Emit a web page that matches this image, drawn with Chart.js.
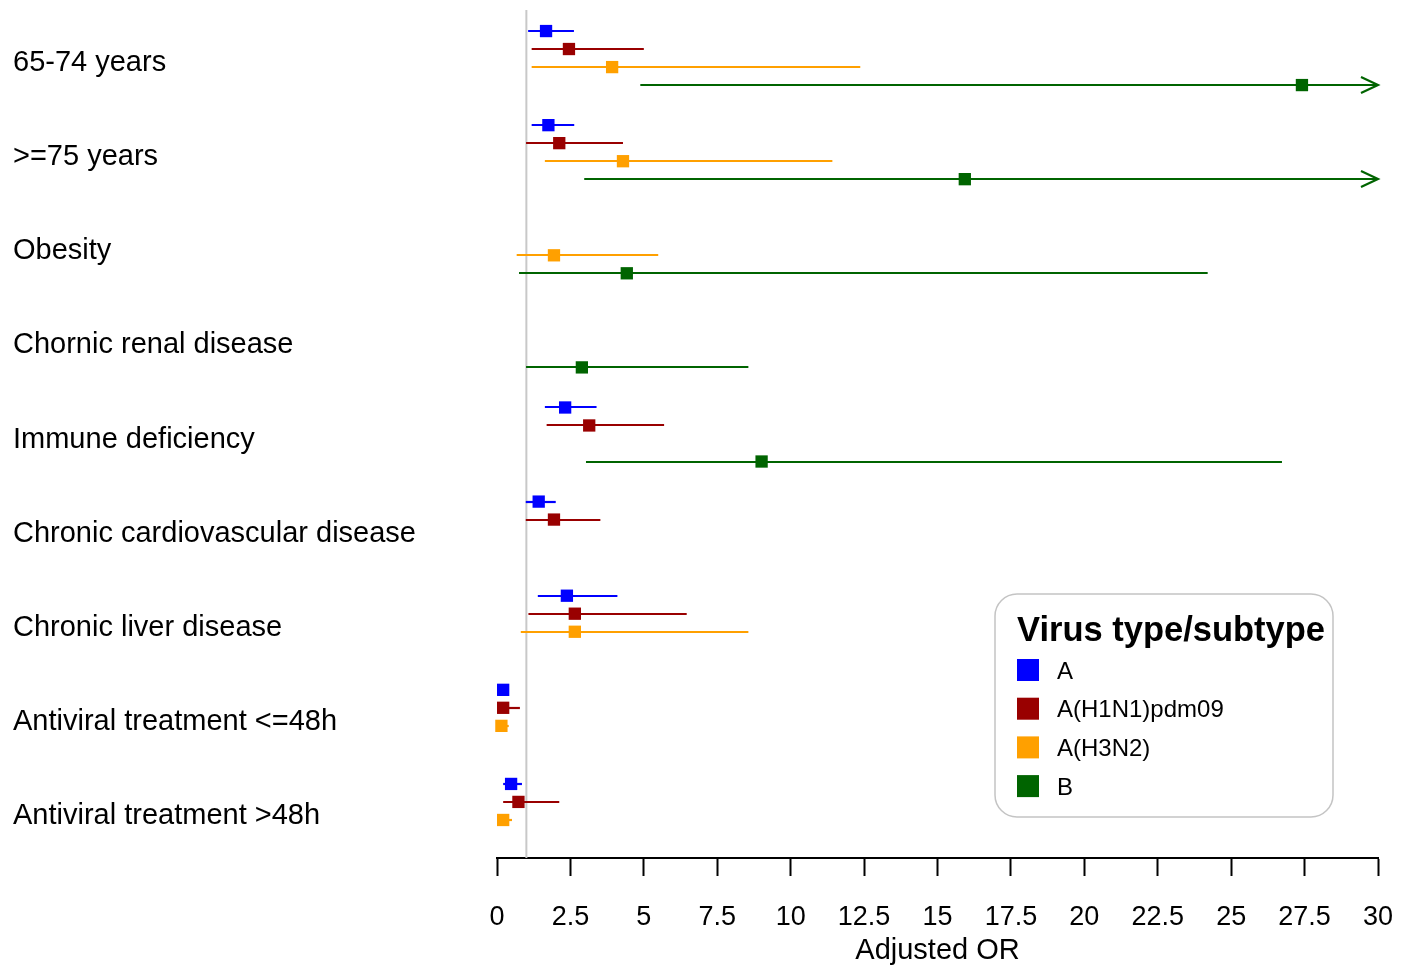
<!DOCTYPE html>
<html>
<head>
<meta charset="utf-8">
<title>Adjusted OR by virus type/subtype</title>
<script src="https://cdn.jsdelivr.net/npm/chart.js@4/dist/chart.umd.min.js"></script>
<style>
  html, body { margin: 0; padding: 0; background: #fff; }
  #caixa { width: 1409px; height: 970px; }
</style>
</head>
<body>
<div id="caixa"><canvas id="grafico"></canvas></div>
<script>
// grupos (linhas do forest plot), de cima pra baixo
var grupos = [
  '65-74 years',
  '>=75 years',
  'Obesity',
  'Chornic renal disease',
  'Immune deficiency',
  'Chronic cardiovascular disease',
  'Chronic liver disease',
  'Antiviral treatment <=48h',
  'Antiviral treatment >48h'
];

var nomesDasSeries = ['A', 'A(H1N1)pdm09', 'A(H3N2)', 'B'];
var coresDasSeries = ['#0000ff', '#990000', '#ffa000', '#006400'];

// valores (null = nao tem)
var pontoA  = [1.67, 1.75, null, null, 2.32, 1.42, 2.38, 0.21, 0.48];
var baixoA  = [1.06, 1.18, null, null, 1.63, 0.98, 1.39, 0.14, 0.21];
var altoA   = [2.62, 2.63, null, null, 3.39, 2.00, 4.10, 0.30, 0.85];

var pontoH1 = [2.45, 2.12, null, null, 3.14, 1.94, 2.65, 0.21, 0.73];
var baixoH1 = [1.18, 0.99, null, null, 1.69, 0.98, 1.07, 0.15, 0.21];
var altoH1  = [5.00, 4.29, null, null, 5.69, 3.52, 6.46, 0.78, 2.12];

var pontoH3 = [3.92, 4.29, 1.94, null, null, null, 2.65, 0.15, 0.21];
var baixoH3 = [1.18, 1.63, 0.67, null, null, null, 0.81, 0.10, 0.15];
var altoH3  = [12.37, 11.42, 5.49, null, null, null, 8.56, 0.40, 0.51];

// B: nas duas primeiras o limite superior passa de 30 (seta no grafico)
var pontoB  = [27.41, 15.93, 4.42, 2.89, 9.01, null, null, null, null];
var baixoB  = [4.88, 2.97, 0.75, 0.99, 3.03, null, null, null, null];
var altoB   = [Infinity, Infinity, 24.2, 8.56, 26.73, null, null, null, null];

// ticks do eixo x
var ticksX = [0, 2.5, 5, 7.5, 10, 12.5, 15, 17.5, 20, 22.5, 25, 27.5, 30];
var linhaDeReferencia = 1;

// posicao de cada serie dentro do grupo
var deslocamentos = [-0.287, -0.096, 0.096, 0.287];

var fonte = 'Liberation Sans, Arial, sans-serif';

// monta os pontos de uma serie
function montaPontos(pontos, baixos, altos, serie) {
  var lista = [];
  for (var i = 0; i < grupos.length; i++) {
    if (pontos[i] === null) continue;
    lista.push({ x: pontos[i], y: i + deslocamentos[serie], lo: baixos[i], hi: altos[i] });
  }
  return lista;
}

var series = [
  montaPontos(pontoA, baixoA, altoA, 0),
  montaPontos(pontoH1, baixoH1, altoH1, 1),
  montaPontos(pontoH3, baixoH3, altoH3, 2),
  montaPontos(pontoB, baixoB, altoB, 3)
];

var datasets = [];
for (var s = 0; s < series.length; s++) {
  datasets.push({
    label: nomesDasSeries[s],
    data: series[s],
    showLine: false,
    pointStyle: 'rect',
    pointRadius: 8.7,
    pointHoverRadius: 8.7,
    pointBorderWidth: 0,
    backgroundColor: coresDasSeries[s],
    borderColor: coresDasSeries[s],
    clip: false
  });
}

// desenha a linha cinza do 1 e os intervalos de confianca
var pluginIntervalos = {
  id: 'intervalos',
  beforeDatasetsDraw: function(chart) {
    var ctx = chart.ctx;
    var eixoX = chart.scales.x;
    var eixoY = chart.scales.y;
    var area = chart.chartArea;

    ctx.save();
    var xRef = eixoX.getPixelForValue(linhaDeReferencia);
    ctx.strokeStyle = '#c8c8c8';
    ctx.lineWidth = 2;
    ctx.beginPath();
    ctx.moveTo(xRef, area.top - 1);
    ctx.lineTo(xRef, area.bottom);
    ctx.stroke();

    for (var d = 0; d < chart.data.datasets.length; d++) {
      var ds = chart.data.datasets[d];
      ctx.strokeStyle = ds.borderColor;
      ctx.lineWidth = 2.2;
      for (var i = 0; i < ds.data.length; i++) {
        var p = ds.data[i];
        var y = Math.round(eixoY.getPixelForValue(p.y));
        var x1 = eixoX.getPixelForValue(p.lo);
        var passou = p.hi > eixoX.max;
        var x2 = passou ? eixoX.getPixelForValue(eixoX.max) : eixoX.getPixelForValue(p.hi);
        ctx.beginPath();
        ctx.moveTo(x1, y);
        ctx.lineTo(x2, y);
        ctx.stroke();
        if (passou) {
          // seta aberta no fim
          ctx.beginPath();
          ctx.moveTo(x2 - 17, y - 8);
          ctx.lineTo(x2, y);
          ctx.lineTo(x2 - 17, y + 8);
          ctx.stroke();
        }
      }
    }
    ctx.restore();
  }
};

// caixa de legenda com canto arredondado
var pluginLegenda = {
  id: 'legendaCaixa',
  afterDraw: function(chart) {
    var ctx = chart.ctx;
    var area = chart.chartArea;
    var largura = 338, altura = 223;
    var x0 = area.right - 45 - largura;
    var y0 = area.bottom - 41 - altura;

    ctx.save();
    ctx.fillStyle = '#ffffff';
    ctx.strokeStyle = '#c4c4c4';
    ctx.lineWidth = 1.5;
    ctx.beginPath();
    ctx.roundRect(x0, y0, largura, altura, 22);
    ctx.fill();
    ctx.stroke();

    ctx.fillStyle = '#000';
    ctx.textBaseline = 'middle';
    ctx.textAlign = 'left';
    ctx.font = 'bold 34.5px ' + fonte;
    ctx.fillText('Virus type/subtype', x0 + 22, y0 + 37);

    ctx.font = '24px ' + fonte;
    for (var d = 0; d < chart.data.datasets.length; d++) {
      var ds = chart.data.datasets[d];
      var yc = y0 + 76 + d * 38.7;
      ctx.fillStyle = ds.backgroundColor;
      ctx.fillRect(x0 + 22, yc - 11, 22, 22);
      ctx.fillStyle = '#000';
      ctx.fillText(ds.label, x0 + 62, yc + 2);
    }
    ctx.restore();
  }
};

var grafico = new Chart(document.getElementById('grafico'), {
  type: 'scatter',
  data: { datasets: datasets },
  plugins: [pluginIntervalos, pluginLegenda],
  options: {
    responsive: true,
    maintainAspectRatio: false,
    animation: false,
    events: [],
    layout: { padding: { top: 11, left: 13, right: 31, bottom: 0 } },
    plugins: {
      legend: { display: false },
      tooltip: { enabled: false },
      title: { display: false }
    },
    scales: {
      x: {
        type: 'linear',
        min: 0,
        max: 30,
        afterBuildTicks: function(eixo) {
          eixo.ticks = ticksX.map(function(v) { return { value: v }; });
        },
        afterFit: function(eixo) {
          eixo.height = 112;
          eixo.paddingLeft = 0;
          eixo.paddingRight = 0;
        },
        border: { display: true, color: '#000', width: 2 },
        grid: {
          display: true,
          drawOnChartArea: false,
          drawTicks: true,
          tickLength: 18,
          tickWidth: 2,
          tickColor: '#000'
        },
        ticks: {
          color: '#000',
          font: { family: fonte, size: 27 },
          padding: 25,
          maxRotation: 0,
          autoSkip: false,
          callback: function(v) { return String(v); }
        },
        title: {
          display: true,
          text: 'Adjusted OR',
          color: '#000',
          font: { family: fonte, size: 29 },
          padding: { top: 0, bottom: 2 }
        }
      },
      y: {
        type: 'linear',
        reverse: true,
        min: -0.5,
        max: 8.5,
        afterBuildTicks: function(eixo) {
          eixo.ticks = grupos.map(function(g, i) { return { value: i }; });
        },
        afterFit: function(eixo) {
          eixo.width = 484;
          eixo.paddingTop = 0;
          eixo.paddingBottom = 0;
        },
        border: { display: false },
        grid: { display: false, drawTicks: false },
        ticks: {
          color: '#000',
          font: { family: fonte, size: 29 },
          crossAlign: 'far',
          labelOffset: 5,
          autoSkip: false,
          callback: function(v) { return grupos[v]; }
        }
      }
    }
  }
});
</script>
</body>
</html>
